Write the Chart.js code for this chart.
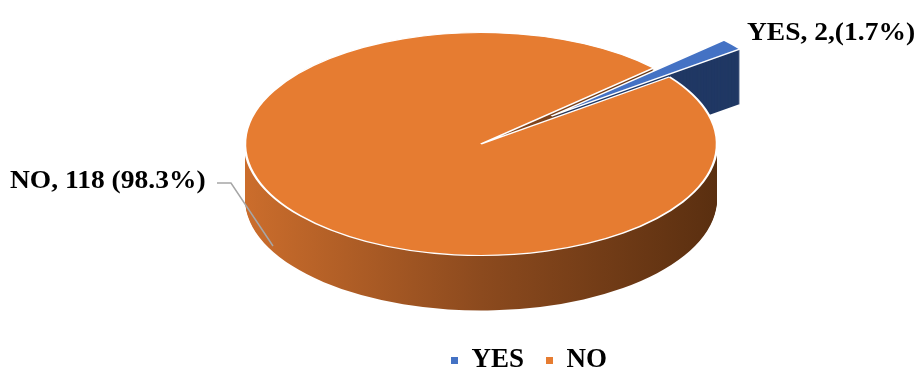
<!DOCTYPE html>
<html>
<head>
<meta charset="utf-8">
<script src="https://cdn.jsdelivr.net/npm/chart.js@4.4.1/dist/chart.umd.min.js"></script>
<style>
  html, body { margin: 0; padding: 0; background: #fff; }
</style>
</head>
<body>
<canvas id="pieChart" width="919" height="371"></canvas>
<script>
const categories = ['YES', 'NO'];
const counts = [2, 118];
const dataLabels = ['YES, 2,(1.7%)', 'NO, 118 (98.3%)'];
const topColors = ['#4472C4', '#E67C31'];
const sideColors = ['#203864', null]; // NO side uses a gradient
const explode = [92, 0];

const TILT = 0.4725;
const DEPTH = 55;

function sliceShift(arc, i) {
    const mid = (arc.startAngle + arc.endAngle) / 2;
    return [Math.cos(mid) * explode[i], Math.sin(mid) * explode[i]];
}

function tiltAbout(ctx, arc) {
    ctx.translate(arc.x, arc.y);
    ctx.scale(1, TILT);
    ctx.translate(-arc.x, -arc.y);
}

function drawStretched(ctx, text, x, y) {
    ctx.save();
    ctx.translate(x, y);
    ctx.scale(1.1, 1);
    ctx.fillText(text, 0, 0);
    ctx.restore();
}

// fake 3D: squash the pie and stack copies under it for the walls
const pie3d = {
    id: 'pie3d',
    beforeDatasetDraw(chart, args) {
        const ctx = chart.ctx;
        const arcs = args.meta.data;
        const a0 = arcs[0];
        const grad = ctx.createLinearGradient(a0.x - a0.outerRadius, 0, a0.x + a0.outerRadius, 0);
        grad.addColorStop(0, '#CB6D2C');
        grad.addColorStop(0.5, '#8C4A1E');
        grad.addColorStop(1, '#5A2F10');

        for (let d = DEPTH; d > 0; d--) {
            arcs.forEach((arc, i) => {
                const [sx, sy] = sliceShift(arc, i);
                ctx.save();
                ctx.translate(0, d);
                tiltAbout(ctx, arc);
                ctx.translate(sx, sy);
                ctx.beginPath();
                ctx.moveTo(arc.x, arc.y);
                ctx.arc(arc.x, arc.y, arc.outerRadius, arc.startAngle, arc.endAngle);
                ctx.closePath();
                ctx.fillStyle = sideColors[i] || grad;
                ctx.fill();
                ctx.restore();
            });
        }

        arcs.forEach((arc, i) => {
            const [sx, sy] = sliceShift(arc, i);
            ctx.save();
            tiltAbout(ctx, arc);
            ctx.translate(sx, sy);
            arc.draw(ctx);
            ctx.restore();
        });
        return false;
    },
    afterDraw(chart) {
        const ctx = chart.ctx;
        ctx.save();
        ctx.font = 'bold 25px "Liberation Serif"';
        ctx.fillStyle = '#000';
        drawStretched(ctx, dataLabels[0], 747, 34);
        drawStretched(ctx, dataLabels[1], 10, 182);
        ctx.strokeStyle = '#A6A6A6';
        ctx.lineWidth = 1.5;
        ctx.beginPath();
        ctx.moveTo(217, 183);
        ctx.lineTo(231, 183);
        ctx.lineTo(273, 246);
        ctx.stroke();
        ctx.restore();
    }
};

var ctx = document.getElementById('pieChart').getContext('2d');

const pieChart = new Chart(ctx, {
    type: 'pie',
    data: {
        labels: categories,
        datasets: [{
            data: counts,
            backgroundColor: topColors,
            borderColor: '#FFFFFF',
            borderWidth: 2.5,
            radius: 236,
            clip: false
        }]
    },
    options: {
        responsive: false,
        animation: false,
        rotation: 47,
        layout: {
            padding: { left: 333, right: 290, top: 0, bottom: -13 }
        },
        plugins: {
            tooltip: { enabled: false },
            legend: {
                position: 'bottom',
                align: 'end',
                title: {
                    display: true,
                    text: ' ',
                    font: { size: 10 },
                    padding: { top: 25, bottom: 0 }
                },
                labels: {
                    color: '#000',
                    font: { family: 'Liberation Serif', size: 27, weight: 'bold' },
                    boxWidth: 7,
                    boxHeight: 7,
                    padding: 22,
                    generateLabels: (chart) => categories.map((c, i) => ({
                        text: c,
                        fillStyle: topColors[i],
                        strokeStyle: topColors[i],
                        fontColor: '#000',
                        lineWidth: 0,
                        index: i
                    }))
                }
            }
        }
    },
    plugins: [pie3d]
});
</script>
</body>
</html>
